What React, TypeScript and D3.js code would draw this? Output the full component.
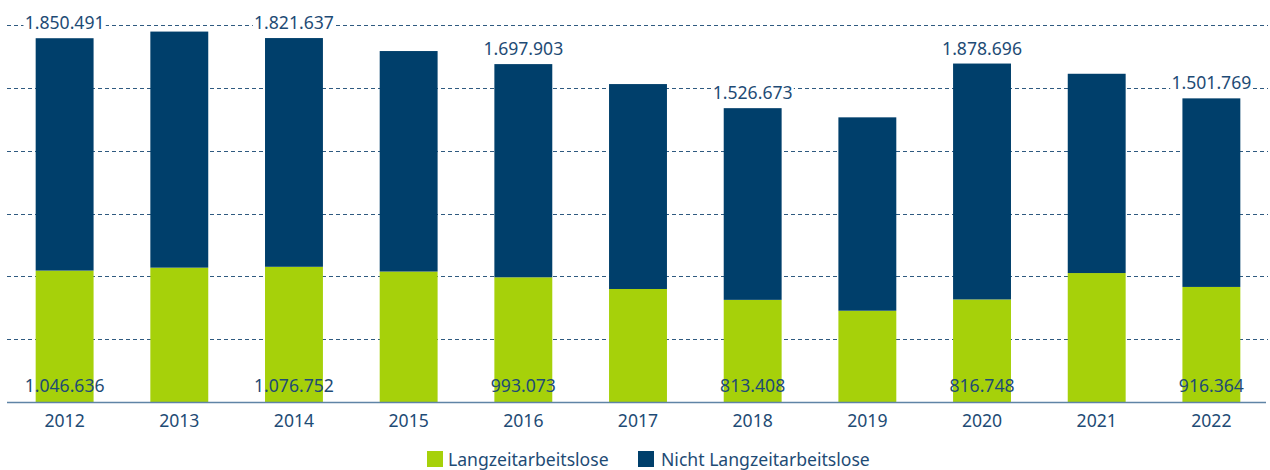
import React from "react";
import * as d3 from "d3";

const years = ["2012", "2013", "2014", "2015", "2016", "2017", "2018", "2019", "2020", "2021", "2022"];
const langzeit = [1046636, 1070000, 1076752, 1039000, 993073, 900000, 813408, 727000, 816748, 1027000, 916364];
const nichtLangzeit = [1850491, 1880000, 1821637, 1756000, 1697903, 1632000, 1526673, 1540000, 1878696, 1587000, 1501769];
const showLabel = [true, false, true, false, true, false, true, false, true, false, true];
const yTicks = [0, 500000, 1000000, 1500000, 2000000, 2500000, 3000000];
const seriesNames = ["Langzeitarbeitslose", "Nicht Langzeitarbeitslose"];

const W = 1270;
const H = 470;
const GREEN = "#a6d10a";
const BLUE = "#003f6b";
const TEXT = "#1e4b75";
const GRID = "#2f5a80";
const FONT = "'Noto Sans', sans-serif";
const FS = 17.6;

const fmt = (v: number) => d3.format(",")(v).replace(/,/g, ".");

export default function App() {
  const x = d3.scaleBand<string>().domain(years).range([7, 1269]).paddingInner(0.495).paddingOuter(0.25);
  const y = d3.scaleLinear().domain([0, 3000000]).range([402, 25.3]);
  const bw = x.bandwidth();

  const labelW = (s: string) => s.length * 8.7;

  return (
    <svg width={W} height={H} style={{ position: "absolute", left: 0, top: 0, background: "#fff" }} fontFamily={FONT}>
      {yTicks.slice(1).map((t) => (
        <line key={t} x1={7} x2={1268} y1={Math.round(y(t)) + 0.5} y2={Math.round(y(t)) + 0.5} stroke={GRID} strokeWidth={1} strokeDasharray="4,3" />
      ))}
      {years.map((yr, i) => {
        const x0 = x(yr)!;
        const g = langzeit[i];
        const n = nichtLangzeit[i];
        return (
          <g key={yr}>
            <rect x={x0} y={y(g)} width={bw} height={y(0) - y(g)} fill={GREEN} />
            <rect x={x0} y={y(g + n)} width={bw} height={y(g) - y(g + n)} fill={BLUE} />
          </g>
        );
      })}
      <line x1={7} x2={1266} y1={402.5} y2={402.5} stroke="#5f84a6" strokeWidth={1.5} />
      {years.map((yr, i) => {
        const cx = x(yr)! + bw / 2;
        const g = langzeit[i];
        const n = nichtLangzeit[i];
        const topY = y(g + n) - 9;
        return (
          <g key={"l" + yr}>
            {showLabel[i] && (
              <>
                <rect x={cx - labelW(fmt(n)) / 2 - 2} y={topY - 15} width={labelW(fmt(n)) + 4} height={19} fill="#fff" />
                <text x={cx} y={topY} textAnchor="middle" fontSize={FS} fill={TEXT}>{fmt(n)}</text>
                <text x={cx} y={392} textAnchor="middle" fontSize={FS} fill={TEXT}>{fmt(g)}</text>
              </>
            )}
            <text x={cx} y={427} textAnchor="middle" fontSize={FS} fill={TEXT}>{yr}</text>
          </g>
        );
      })}
      <rect x={427} y={451} width={16} height={16} fill={GREEN} />
      <text x={448} y={466} fontSize={FS} fill={TEXT}>{seriesNames[0]}</text>
      <rect x={638} y={451} width={16} height={16} fill={BLUE} />
      <text x={661} y={466} fontSize={FS} fill={TEXT}>{seriesNames[1]}</text>
    </svg>
  );
}
